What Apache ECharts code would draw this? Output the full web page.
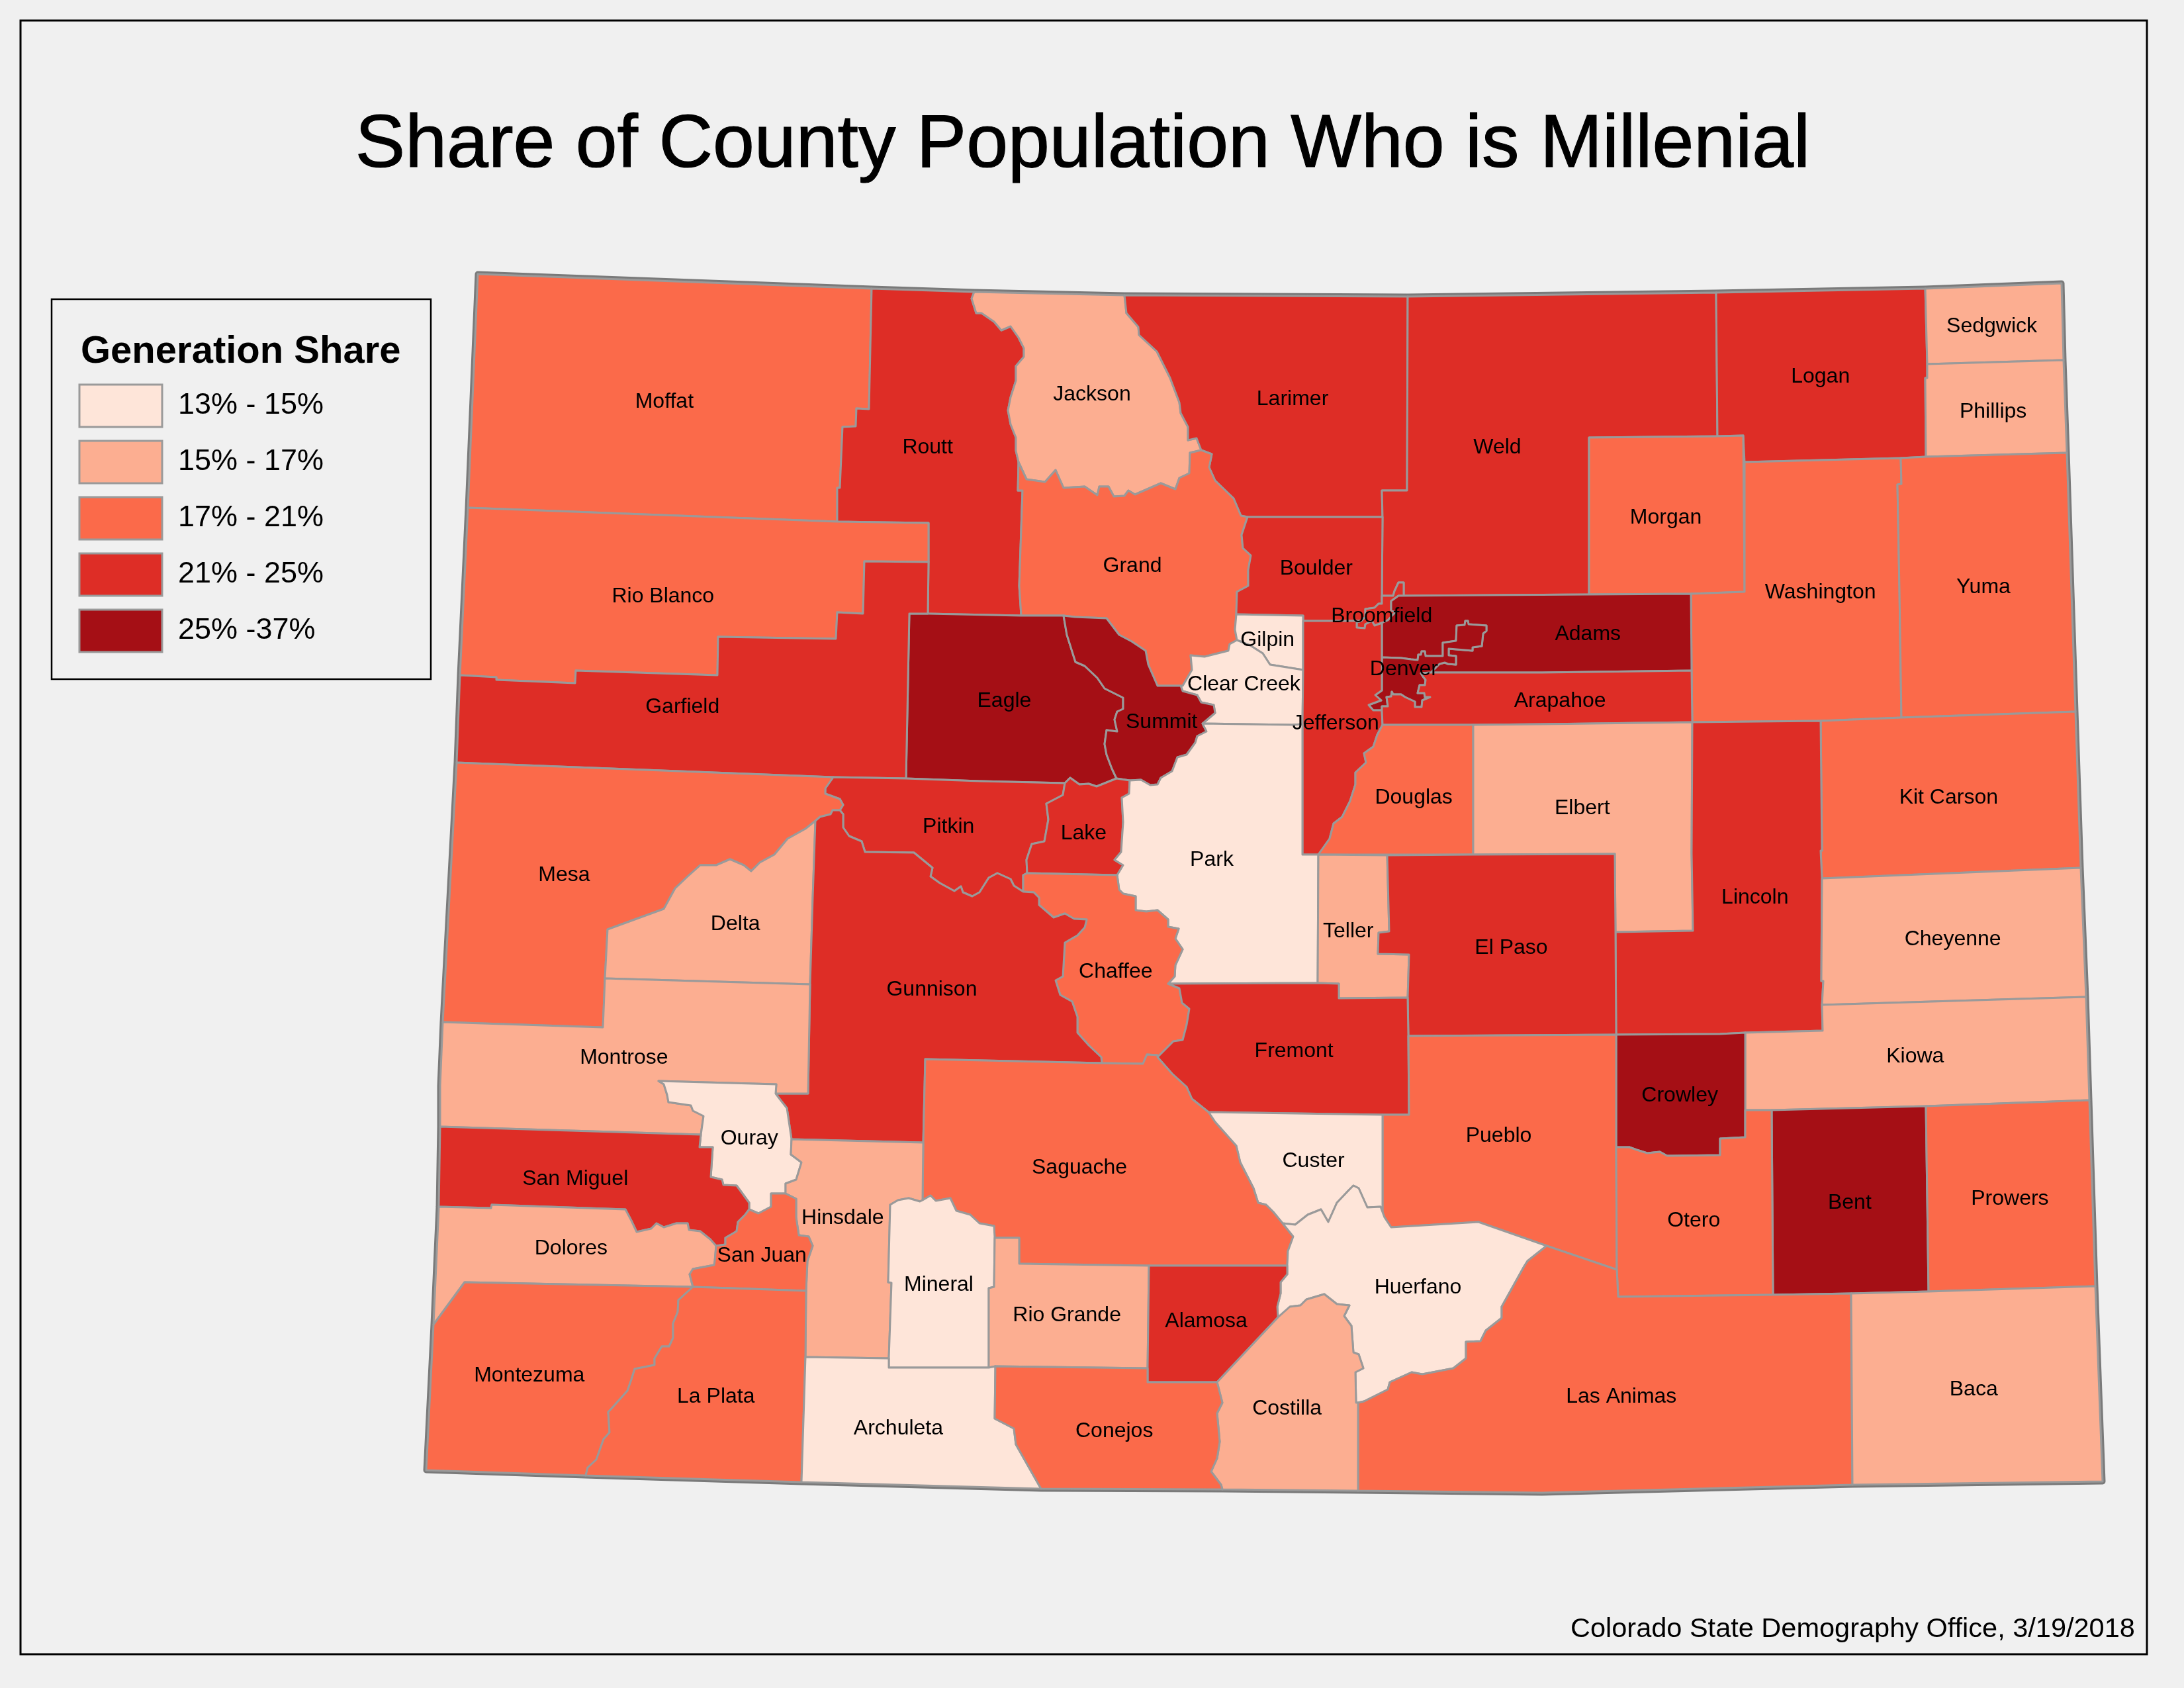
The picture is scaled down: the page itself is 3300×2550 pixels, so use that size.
<!DOCTYPE html>
<html>
<head>
<meta charset="utf-8">
<style>html,body{margin:0;padding:0;background:#f0f0f0}#c{width:3300px;height:2550px}</style>
<script src="https://cdn.jsdelivr.net/npm/echarts@6/dist/echarts.min.js"></script>
</head>
<body>
<div id="c"></div>
<script>
// ---------- chart data ----------
const counties = ['Moffat','Routt','Jackson','Larimer','Weld','Logan','Sedgwick','Phillips','Morgan','Washington','Yuma','Rio Blanco','Grand','Boulder','Broomfield','Gilpin','Adams','Denver','Clear Creek','Eagle','Garfield','Summit','Jefferson','Arapahoe','Douglas','Elbert','Kit Carson','Pitkin','Lake','Park','Mesa','Lincoln','Delta','Teller','Cheyenne','El Paso','Chaffee','Gunnison','Fremont','Montrose','Kiowa','Crowley','Pueblo','Ouray','Custer','Saguache','San Miguel','Bent','Prowers','Hinsdale','Otero','Dolores','San Juan','Mineral','Huerfano','Rio Grande','Alamosa','Montezuma','La Plata','Las Animas','Baca','Costilla','Archuleta','Conejos'];
const shares = [19,23,16,23,23,23,16,16,19,19,19,19,19,23,23,14,30,30,14,30,23,30,23,23,19,16,19,23,23,14,19,23,16,16,16,23,19,23,23,16,16,30,19,14,14,19,23,30,19,16,19,16,19,14,14,16,23,19,19,19,16,16,14,19];
const classLabels = ['13% - 15%','15% - 17%','17% - 21%','21% - 25%','25% -37%'];
const classMins = [13,15,17,21,25];
const classMaxs = [15,17,21,25,37];
const classColors = ['#fee5d9','#fcae91','#fb6a4a','#de2d26','#a50f15'];
const mapTitle = 'Share of County Population Who is Millenial';
const legendTitle = 'Generation Share';
const creditLine = 'Colorado State Demography Office, 3/19/2018';

// ---------- county geometry (projected map units), shared boundaries ----------
const arcs = {
 jacksonRoutt:[[1472,441],[1468,451],[1475,473],[1483,473],[1502,486],[1513,499],[1527,493],[1539,510],[1547,526],[1547,539],[1535,553],[1535,575],[1527,600],[1523,620],[1527,641],[1535,661],[1535,681],[1539,698]],
 jacksonGrand:[[1539,698],[1551,724],[1579,728],[1595,710],[1607,737],[1639,735],[1658,748],[1661,735],[1675,735],[1683,750],[1699,749],[1705,741],[1715,747],[1754,730],[1776,739],[1782,722],[1797,715],[1798,684],[1815,680]],
 jacksonLarimer:[[1699,446],[1702,473],[1720,494],[1721,506],[1748,531],[1768,571],[1782,608],[1784,624],[1795,645],[1795,665],[1808,662],[1815,680]],
 larimerGrand:[[1815,680],[1831,686],[1827,706],[1836,726],[1864,753],[1875,779],[1885,781]],
 grandBoulder:[[1885,781],[1876,808],[1878,828],[1890,839],[1886,861],[1886,885],[1869,894],[1868,928]],
 grandGilpin:[[1868,928],[1866,951],[1869,967]],
 grandClear:[[1869,967],[1858,973],[1856,983],[1820,992],[1799,990],[1801,1012],[1787,1036],[1784,1036]],
 grandSummit:[[1784,1036],[1754,1036],[1749,1036],[1735,1004],[1731,983],[1710,969],[1691,959],[1672,934],[1624,932],[1607,930]],
 eagleSummit:[[1607,930],[1612,959],[1625,1000],[1639,1006],[1658,1024],[1669,1040],[1697,1054],[1697,1071],[1688,1075],[1684,1087],[1688,1105],[1672,1103],[1669,1124],[1672,1140],[1680,1161],[1687,1176]],
 lakeSummit:[[1687,1176],[1707,1179]],
 lakeEagle:[[1609,1183],[1617,1175],[1631,1185],[1645,1184],[1657,1188],[1687,1176]],
 summitClear:[[1784,1036],[1787,1044],[1809,1050],[1815,1061],[1834,1065],[1836,1077],[1817,1093]],
 summitPark:[[1817,1093],[1823,1105],[1809,1112],[1806,1122],[1793,1140],[1779,1144],[1771,1165],[1754,1175],[1749,1185],[1738,1186],[1724,1178],[1707,1179]],
 lakePark:[[1707,1179],[1706,1199],[1695,1205],[1697,1242],[1694,1287],[1684,1299],[1697,1307],[1688,1322]],
 lakePitkin:[[1609,1183],[1606,1201],[1581,1214],[1584,1238],[1578,1271],[1559,1275],[1551,1299],[1552,1319]],
 pitkinGunnison:[[1546,1347],[1532,1338],[1527,1328],[1507,1319],[1494,1326],[1480,1348],[1469,1354],[1455,1348],[1452,1339],[1442,1346],[1420,1334],[1406,1324],[1409,1311],[1381,1288],[1307,1287],[1302,1271],[1283,1263],[1274,1250],[1274,1230],[1269,1224]],
 mesaPitkin:[[1259,1174],[1247,1191],[1247,1199],[1269,1207],[1274,1216],[1269,1224]],
 mesaGunnison:[[1269,1224],[1258,1224],[1255,1230],[1239,1234],[1232,1240]],
 mesaDelta:[[1232,1240],[1217,1252],[1190,1267],[1170,1291],[1148,1303],[1135,1316],[1124,1307],[1103,1298],[1082,1307],[1058,1307],[1039,1324],[1020,1342],[1003,1373],[918,1404]],
 ouraySanMiguel:[[1059,1714],[1057,1733],[1077,1733],[1074,1778],[1091,1782],[1093,1790],[1113,1791],[1132,1817],[1132,1827]],
 ourayJuan:[[1132,1827],[1146,1833],[1165,1823],[1165,1803],[1187,1803]],
 ourayHinsdale:[[1187,1803],[1187,1788],[1203,1782],[1211,1756],[1195,1744],[1196,1721]],
 gunnOuray:[[1196,1721],[1189,1674],[1178,1660],[1172,1652]],
 ourayMontrose:[[995,1633],[1003,1638],[1008,1654],[1010,1665],[1044,1670],[1047,1678],[1063,1686],[1059,1714]],
 sanMiguelJuan:[[1132,1827],[1126,1835],[1115,1846],[1113,1860],[1096,1870],[1096,1880],[1082,1882]],
 sanMiguelDolores:[[1082,1882],[1073,1872],[1058,1860],[1041,1858],[1039,1848],[1022,1848],[1003,1854],[992,1848],[984,1856],[962,1861],[954,1844],[945,1827],[743,1820],[742,1825],[663,1823]],
 doloresJuan:[[1082,1882],[1080,1905],[1079,1911],[1047,1917],[1042,1925],[1047,1944]],
 montLaPlata:[[1047,1944],[1025,1964],[1024,1982],[1017,1999],[1017,2021],[1011,2034],[1000,2034],[989,2052],[989,2062],[959,2068],[954,2084],[948,2101],[923,2129],[919,2133],[921,2164],[912,2174],[901,2205],[888,2217],[885,2229]],
 hinsdaleJuan:[[1187,1803],[1203,1811],[1203,1839],[1207,1866],[1222,1868],[1228,1882],[1220,1905],[1218,1950]],
 hinsMineral:[[1394,1813],[1390,1815],[1373,1810],[1357,1813],[1345,1820]],
 saguacheMineral:[[1394,1813],[1406,1806],[1414,1814],[1436,1810],[1445,1829],[1466,1835],[1480,1848],[1502,1852],[1503,1870]],
 mineralWest:[[1345,1820],[1342,1937],[1347,1938],[1343,2052]],
 archConejos:[[1504,2064],[1503,2143],[1532,2158],[1535,2182],[1573,2249]],
 conejosCostilla:[[1839,2088],[1847,2119],[1839,2135],[1843,2178],[1839,2203],[1830,2223],[1845,2243],[1847,2250]],
 alamosaHuerfano:[[1945,1912],[1945,1925],[1935,1937],[1935,1954],[1930,1974],[1931,1990]],
 costHuerfano:[[1931,1990],[1949,1974],[1965,1972],[1974,1963],[2001,1955],[2020,1970],[2039,1972],[2031,1988],[2042,2003],[2045,2043],[2053,2046],[2060,2067],[2048,2073],[2049,2119]],
 huerfLasAnimas:[[2052,2119],[2061,2117],[2097,2099],[2100,2088],[2133,2073],[2149,2076],[2196,2067],[2215,2052],[2215,2027],[2237,2026],[2245,2010],[2269,1991],[2269,1974],[2303,1913],[2308,1905],[2337,1882]],
 huerfPueblo:[[2337,1882],[2234,1846],[2102,1854],[2092,1839]],
 sagHuerf:[[1938,1848],[1954,1868],[1946,1890],[1945,1912]],
 custerHuerf:[[1938,1848],[1957,1850],[1976,1835],[1996,1827],[2007,1846],[2020,1817],[2037,1799],[2045,1791],[2053,1795],[2066,1824],[2086,1823],[2092,1839]],
 sagCuster:[[1826,1680],[1836,1695],[1868,1731],[1874,1756],[1894,1795],[1901,1817],[1913,1820],[1924,1831],[1938,1848]],
 sagFremont:[[1749,1597],[1771,1622],[1793,1642],[1801,1660],[1826,1680]],
 chaffeeFremont:[[1765,1486],[1782,1493],[1786,1515],[1797,1524],[1793,1548],[1787,1571],[1773,1573],[1749,1597]],
 chaffeePark:[[1688,1322],[1691,1344],[1697,1350],[1716,1354],[1716,1375],[1732,1377],[1749,1375],[1765,1389],[1765,1400],[1781,1403],[1776,1418],[1787,1434],[1776,1458],[1775,1475],[1765,1486]],
 gunnChaffee:[[1546,1347],[1562,1348],[1570,1356],[1570,1367],[1592,1386],[1609,1380],[1623,1388],[1642,1389],[1639,1401],[1628,1413],[1609,1424],[1606,1475],[1595,1481],[1602,1503],[1620,1513],[1628,1536],[1628,1560],[1645,1579],[1664,1597],[1665,1606]],
 boulderBroom:[[2088,912],[2083,912],[2077,918],[2063,920],[2063,932],[2057,938]],
 jeffBroom:[[2057,938],[2050,940],[2050,948],[2062,949],[2063,943],[2073,938],[2077,945],[2088,941]],
 adamsBroom:[[2088,941],[2097,937],[2108,925],[2102,922],[2102,908],[2113,900]],
 weldBroom:[[2113,900],[2121,900],[2121,880],[2113,880],[2107,893],[2105,900],[2088,900]],
 denverJeff:[[2088,993],[2088,1043],[2078,1050],[2087,1058],[2068,1065],[2075,1073],[2088,1073]],
 denverArap:[[2162,1016],[2147,1017],[2150,1022],[2154,1027],[2153,1035],[2145,1035],[2142,1047],[2152,1047],[2153,1053],[2161,1053],[2149,1058],[2148,1068],[2138,1068],[2138,1060],[2123,1053],[2117,1049],[2105,1049],[2103,1045],[2102,1052],[2095,1053],[2097,1067],[2088,1067],[2088,1073]],
 denverAdams:[[2088,993],[2117,994],[2132,996],[2142,997],[2143,989],[2147,989],[2148,984],[2153,984],[2154,991],[2180,991],[2180,971],[2200,968],[2201,945],[2213,944],[2214,938],[2218,938],[2219,943],[2246,945],[2246,953],[2241,957],[2239,976],[2225,978],[2225,983],[2189,980],[2189,990],[2200,991],[2200,1004],[2188,1003],[2183,1001],[2175,1003],[2162,1016]],
 jeffDouglas:[[2089,1095],[2081,1110],[2075,1128],[2061,1138],[2064,1152],[2048,1167],[2048,1185],[2040,1210],[2028,1234],[2015,1244],[2009,1267],[1992,1291]],
 crowleyOtero:[[2442,1733],[2462,1733],[2473,1737],[2489,1742],[2508,1740],[2519,1746],[2527,1746],[2599,1745]]
};
const rings = {
 'Moffat':[[722,414],[1317,436],[1313,618],[1294,617],[1293,644],[1273,645],[1269,737],[1265,737],[1265,788],[707,767]],
 'Routt':[[1317,436],[1472,441],'jacksonRoutt',[1538,741],[1545,741],[1540,885],[1543,930],[1402,927],[1403,849],[1403,790],[1265,788],[1265,737],[1269,737],[1273,645],[1293,644],[1294,617],[1313,618]],
 'Jackson':[[1472,441],[1699,446],'jacksonLarimer','-jacksonGrand','-jacksonRoutt'],
 'Larimer':[[1699,446],[2127,448],[2126,741],[2088,741],[2089,781],[1885,781],'-larimerGrand','-jacksonLarimer'],
 'Weld':[[2127,448],[2593,442],[2595,659],[2401,661],[2401,898],[2121,900],[2121,880],[2113,880],[2107,893],[2105,900],[2088,900],[2089,781],[2088,741],[2126,741]],
 'Logan':[[2593,442],[2909,436],[2912,550],[2912,571],[2909,571],[2910,690],[2872,692],[2636,698],[2634,658],[2595,659]],
 'Sedgwick':[[2909,436],[3115,428],[3118,544],[2912,550]],
 'Phillips':[[2912,550],[3118,544],[3123,684],[2910,690],[2909,571],[2912,571]],
 'Morgan':[[2401,661],[2595,659],[2634,658],[2636,894],[2555,897],[2401,898]],
 'Washington':[[2636,698],[2872,692],[2873,731],[2867,732],[2870,890],[2873,1084],[2751,1089],[2557,1091],[2556,1013],[2555,897],[2636,894]],
 'Yuma':[[2872,692],[2910,690],[3123,684],[3136,1075],[2873,1084],[2870,890],[2867,732],[2873,731]],
 'Rio Blanco':[[707,767],[1265,788],[1403,790],[1403,849],[1306,848],[1304,927],[1265,925],[1263,965],[1085,962],[1084,1020],[870,1013],[869,1032],[750,1027],[750,1023],[695,1020]],
 'Grand':[[1539,698],'jacksonGrand','larimerGrand','grandBoulder','grandGilpin','grandClear','grandSummit',[1543,930],[1540,885],[1545,741],[1538,741]],
 'Boulder':[[1885,781],[2089,781],[2088,900],'boulderBroom',[1969,938],[1969,930],[1868,928],'-grandBoulder'],
 'Broomfield':['boulderBroom','jeffBroom','adamsBroom','weldBroom'],
 'Gilpin':[[1868,928],[1969,930],[1969,938],[1969,1012],[1919,1004],[1908,987],[1889,975],[1869,967],'-grandGilpin'],
 'Adams':['adamsBroom',[2401,898],[2555,897],[2556,1013],[2330,1016],'-denverAdams'],
 'Denver':['denverAdams','denverArap','-denverJeff'],
 'Clear Creek':['grandClear','summitClear',[1952,1095],[1968,1094],[1969,1012],[1919,1004],[1908,987],[1889,975]],
 'Eagle':[[1374,927],[1402,927],[1543,930],'eagleSummit','-lakeEagle',[1480,1180],[1369,1176]],
 'Garfield':[[695,1020],[750,1023],[750,1027],[869,1032],[870,1013],[1084,1020],[1085,962],[1263,965],[1265,925],[1304,927],[1306,848],[1403,849],[1402,927],[1374,927],[1369,1176],[1259,1174],[690,1152]],
 'Summit':['-grandSummit','summitClear','summitPark','-lakeSummit','-eagleSummit'],
 'Jefferson':[[1969,938],'jeffBroom','denverJeff',[2089,1095],'jeffDouglas',[1968,1291],[1968,1094],[1969,1012]],
 'Arapahoe':[[2162,1016],[2330,1016],[2556,1013],[2557,1091],[2330,1094],[2226,1095],[2089,1095],[2088,1073],'-denverArap'],
 'Douglas':[[2089,1095],[2226,1095],[2226,1291],'-jeffDouglas'],
 'Elbert':[[2226,1095],[2330,1094],[2557,1091],[2556,1289],[2558,1406],[2441,1408],[2440,1290],[2226,1291]],
 'Kit Carson':[[2751,1089],[2873,1084],[3136,1075],[3144,1311],[2753,1327],[2751,1285],[2753,1285]],
 'Pitkin':[[1259,1174],[1369,1176],[1480,1180],'lakePitkin',[1546,1322],'pitkinGunnison','-mesaPitkin'],
 'Lake':['lakeEagle','lakeSummit','lakePark',[1552,1319],'-lakePitkin'],
 'Park':['-summitPark',[1952,1095],[1968,1094],[1968,1291],[1992,1291],[1991,1485],'-chaffeePark','-lakePark'],
 'Mesa':[[690,1152],[1259,1174],'mesaPitkin','mesaGunnison','mesaDelta',[914,1478],[911,1552],[669,1544]],
 'Lincoln':[[2557,1091],[2751,1089],[2753,1285],[2751,1285],[2753,1327],[2752,1482],[2755,1482],[2753,1518],[2754,1557],[2637,1560],[2599,1562],[2442,1563],[2441,1408],[2558,1406],[2556,1289]],
 'Delta':['mesaDelta',[914,1478],[1224,1487],[1228,1356]],
 'Teller':[[1992,1291],[2096,1292],[2099,1407],[2083,1409],[2082,1441],[2129,1442],[2127,1507],[2023,1508],[2023,1486],[1991,1485]],
 'Cheyenne':[[2753,1327],[3144,1311],[3152,1506],[2753,1518],[2755,1482],[2752,1482]],
 'El Paso':[[2096,1292],[2226,1291],[2440,1290],[2441,1408],[2442,1563],[2128,1565],[2127,1507],[2129,1442],[2082,1441],[2083,1409],[2099,1407]],
 'Chaffee':[[1546,1322],[1552,1319],'chaffeePark','chaffeeFremont',[1749,1594],[1733,1593],[1727,1607],'-gunnChaffee'],
 'Gunnison':['-mesaGunnison','-pitkinGunnison','gunnChaffee',[1398,1600],[1395,1726],'gunnOuray',[1221,1652],[1224,1487],[1228,1356]],
 'Fremont':[[1765,1486],[1991,1485],[2023,1486],[2023,1508],[2127,1507],[2128,1565],[2129,1684],[2089,1684],'-sagFremont','-chaffeeFremont'],
 'Montrose':[[669,1544],[911,1552],[914,1478],[1224,1487],[1221,1652],[1172,1652],[1173,1638],'ourayMontrose',[665,1702],[665,1640]],
 'Kiowa':[[2753,1518],[3152,1506],[3157,1662],[2910,1671],[2677,1677],[2637,1677],[2637,1560],[2754,1557]],
 'Crowley':[[2442,1563],[2599,1562],[2637,1560],[2637,1677],[2637,1718],[2599,1720],'-crowleyOtero'],
 'Pueblo':[[2128,1565],[2442,1563],[2442,1733],[2443,1918],'huerfPueblo',[2089,1838],[2089,1684],[2129,1684]],
 'Ouray':[[995,1633],[1173,1638],'-gunnOuray','-ourayHinsdale','-ourayJuan','-ouraySanMiguel','-ourayMontrose'],
 'Custer':[[1826,1680],[2089,1684],[2089,1838],'-custerHuerf','-sagCuster'],
 'Saguache':[[1398,1600],[1665,1606],[1727,1607],[1733,1593],[1749,1594],'sagFremont','sagCuster','sagHuerf',[1736,1912],[1540,1909],[1540,1870],'-saguacheMineral',[1395,1726]],
 'San Miguel':[[665,1702],[1059,1714],'ouraySanMiguel','sanMiguelJuan','sanMiguelDolores'],
 'Bent':[[2677,1677],[2910,1671],[2914,1951],[2797,1954],[2679,1956]],
 'Prowers':[[2910,1671],[3157,1662],[3166,1943],[2914,1951]],
 'Hinsdale':[[1196,1721],[1395,1726],'hinsMineral','mineralWest',[1217,2050],[1218,1950],'-hinsdaleJuan','ourayHinsdale'],
 'Otero':['crowleyOtero',[2599,1720],[2637,1718],[2637,1677],[2677,1677],[2679,1956],[2445,1959],[2443,1918]],
 'Dolores':['-sanMiguelDolores','doloresJuan',[702,1937],[655,2001]],
 'San Juan':['-ourayJuan','sanMiguelJuan','doloresJuan',[1218,1950],'-hinsdaleJuan'],
 'Mineral':['-hinsMineral','saguacheMineral',[1502,1944],[1494,1946],[1494,2066],[1343,2066],'-mineralWest'],
 'Huerfano':['sagHuerf','alamosaHuerfano','costHuerfano','huerfLasAnimas','huerfPueblo','-custerHuerf'],
 'Rio Grande':[[1503,1870],[1540,1870],[1540,1909],[1736,1912],[1734,2067],[1504,2064],[1494,2066],[1494,1946],[1502,1944]],
 'Alamosa':[[1736,1912],'alamosaHuerfano',[1839,2088],[1734,2088],[1734,2067]],
 'Montezuma':[[655,2001],[702,1937],'montLaPlata',[644,2221]],
 'La Plata':[[1047,1944],[1218,1950],[1217,2050],[1211,2239],'-montLaPlata'],
 'Las Animas':[[2337,1882],[2443,1918],[2445,1959],[2679,1956],[2797,1954],[2799,2243],[2330,2255],[2052,2252],'huerfLasAnimas'],
 'Baca':[[2797,1954],[2914,1951],[3166,1943],[3177,2238],[2799,2243]],
 'Costilla':[[1839,2088],'costHuerfano',[2052,2119],[2052,2252],'-conejosCostilla'],
 'Archuleta':[[1217,2050],[1343,2052],[1343,2066],[1494,2066],'archConejos',[1211,2239]],
 'Conejos':[[1504,2064],[1734,2067],[1734,2088],'conejosCostilla','-archConejos']
};
const stateOutline = [[722,414],[1317,436],[1472,441],[1699,446],[2127,448],[2593,442],[2909,436],[3115,428],[3118,544],[3123,684],[3136,1075],[3144,1311],[3152,1506],[3157,1662],[3166,1943],[3177,2238],[2799,2243],[2330,2255],[2052,2252],[1847,2250],[1573,2249],[1211,2239],[885,2229],[644,2221],[655,2001],[663,1823],[665,1702],[665,1640],[669,1544],[690,1152],[695,1020],[707,767]];
const labelAnchors = {'Moffat':[477,287],'Routt':[666,320],'Jackson':[784,282],'Larimer':[928,285],'Weld':[1075,320],'Logan':[1307,269],'Sedgwick':[1430,233],'Phillips':[1431,294],'Morgan':[1196,370],'Washington':[1307,424],'Yuma':[1424,420],'Rio Blanco':[476,427],'Grand':[813,405],'Boulder':[945,407],'Broomfield':[992,441],'Gilpin':[910,458],'Adams':[1140,454],'Denver':[1008,479],'Clear Creek':[893,490],'Eagle':[721,502],'Garfield':[490,506],'Summit':[834,517],'Jefferson':[959,518],'Arapahoe':[1120,502],'Douglas':[1015,571],'Elbert':[1136,579],'Kit Carson':[1399,571],'Pitkin':[681,592],'Lake':[778,597],'Park':[870,616],'Mesa':[405,627],'Lincoln':[1260,643],'Delta':[528,662],'Teller':[968,667],'Cheyenne':[1402,673],'El Paso':[1085,679],'Chaffee':[801,696],'Gunnison':[669,709],'Fremont':[929,753],'Montrose':[448,758],'Kiowa':[1375,757],'Crowley':[1206,785],'Pueblo':[1076,814],'Ouray':[538,816],'Custer':[943,832],'Saguache':[775,837],'San Miguel':[413,845],'Bent':[1328,862],'Prowers':[1443,859],'Hinsdale':[605,873],'Otero':[1216,875],'Dolores':[410,895],'San Juan':[547,900],'Mineral':[674,921],'Huerfano':[1018,923],'Rio Grande':[766,943],'Alamosa':[866,947],'Montezuma':[380,986],'La Plata':[514,1001],'Las Animas':[1164,1001],'Baca':[1417,996],'Costilla':[924,1010],'Archuleta':[645,1024],'Conejos':[800,1026]};

// ---------- build GeoJSON ----------
const flip = p => [p[0], -p[1]];
function expand(spec){
  const out = [];
  spec.forEach(item => {
    if (typeof item === 'string') {
      const rev = item[0] === '-';
      const a = arcs[rev ? item.slice(1) : item].slice();
      if (rev) a.reverse();
      a.forEach(p => out.push(p));
    } else out.push(item);
  });
  out.push(out[0]);
  return out.map(flip);
}
const LABEL_SCALE = 3300 / 1568;
const countyGeo = {type:'FeatureCollection', features: counties.map(n => ({
  type:'Feature',
  properties:{name:n, cp:[labelAnchors[n][0]*LABEL_SCALE, -labelAnchors[n][1]*LABEL_SCALE]},
  geometry:{type:'Polygon', coordinates:[expand(rings[n])]}
}))};
const outlineGeo = {type:'FeatureCollection', features:[{type:'Feature',properties:{name:'Colorado'},
  geometry:{type:'Polygon',coordinates:[expand(stateOutline)]}}]};
echarts.registerMap('coCounties', countyGeo);
echarts.registerMap('coOutline', outlineGeo);

const FONT = '"Liberation Sans", Arial, sans-serif';
const pageBox = {left:0, top:0, width:3300, height:2550};
const bounds = [[0,0],[3300,-2550]];
const chart = echarts.init(document.getElementById('c'), null, {width:3300, height:2550, renderer:'canvas'});
const swatchY = [581,666,751,836,921];
chart.setOption({
  animation:false,
  backgroundColor:'#f0f0f0',
  title:[
    {text:mapTitle, left:1636, top:164, textAlign:'center', padding:0,
     textStyle:{fontFamily:FONT, fontSize:113, fontWeight:'normal', color:'#000', textBorderColor:'#000', textBorderWidth:1.2}},
    {text:legendTitle, left:122, top:503, padding:0,
     textStyle:{fontFamily:FONT, fontSize:58, fontWeight:'bold', color:'#000'}},
    {text:creditLine, left:2373, top:2441, padding:0,
     textStyle:{fontFamily:FONT, fontSize:41.5, fontWeight:'normal', color:'#000'}}
  ],
  geo:{map:'coOutline', ...pageBox, aspectScale:1, boundingCoords:bounds, silent:true, z:1,
    label:{show:false}, itemStyle:{areaColor:'#7a7a7a', borderColor:'#7a7a7a', borderWidth:9, borderJoin:'round'},
    emphasis:{disabled:true}},
  visualMap:{type:'piecewise', seriesIndex:0, left:120, top:581, orient:'vertical', inverse:true,
    itemSymbol:'rect', itemWidth:125, itemHeight:64, itemGap:21, textGap:24, padding:0, align:'left', selectedMode:false, hoverLink:false,
    textStyle:{fontFamily:FONT, fontSize:45, color:'#000', padding:[8,0,0,0]},
    pieces:classLabels.map((t,i)=>({min:classMins[i], max:classMaxs[i], label:t, color:classColors[i]}))},
  series:[{
    type:'map', map:'coCounties', ...pageBox, aspectScale:1, boundingCoords:bounds, roam:false, silent:true, z:2,
    selectedMode:false, showLegendSymbol:false,
    label:{show:true, fontFamily:FONT, fontSize:32, color:'#000', offset:[0,3]},
    itemStyle:{borderColor:'#9a9a9a', borderWidth:3, borderJoin:'round'},
    emphasis:{disabled:true},
    data:counties.map((n,i)=>({name:n, value:shares[i]}))
  }],
  graphic:[
    {type:'rect', z:0, silent:true, shape:{x:31,y:31,width:3213,height:2468}, style:{fill:null, stroke:'#000', lineWidth:3}},
    {type:'rect', z:0, silent:true, shape:{x:78,y:452,width:573,height:574}, style:{fill:null, stroke:'#000', lineWidth:2.5}}
  ].concat(swatchY.map(y=>({type:'rect', z:10, silent:true, shape:{x:120,y:y,width:125,height:64}, style:{fill:null, stroke:'#9a9a9a', lineWidth:3}})))
});
</script>
</body>
</html>
